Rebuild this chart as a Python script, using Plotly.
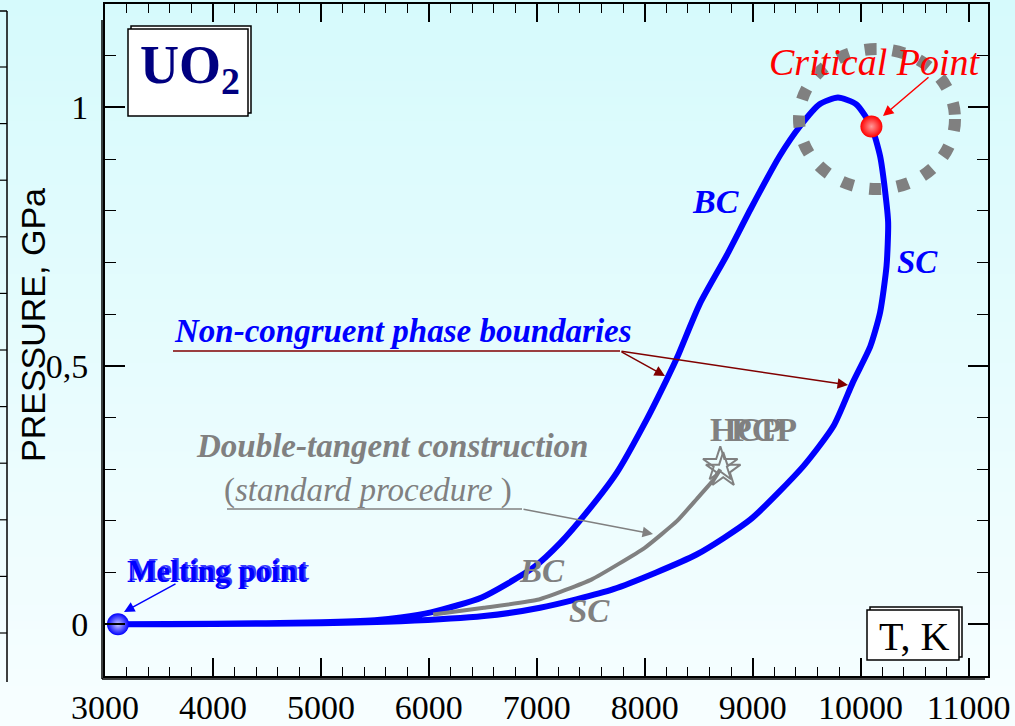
import plotly.graph_objects as go

# ---------------- data ----------------
# Boiling curve (BC): melting point -> critical point
bc_T = [3120, 4000, 5000, 5500, 5740, 6020, 6490, 6970, 7220, 7460, 7740, 8020,
        8200, 8300, 8510, 8760, 8980, 9250, 9440, 9620, 9790, 9960, 10100]
bc_P = [0.0, 0.001, 0.004, 0.008, 0.013, 0.023, 0.052, 0.110, 0.158, 0.216, 0.293, 0.397,
        0.472, 0.516, 0.620, 0.714, 0.803, 0.906, 0.964, 1.006, 1.019, 1.006, 0.963]

# Saturation curve (SC): critical point -> melting point
sc_T = [10100, 10180, 10225, 10255, 10240, 10180, 10090, 9930, 9750, 9470,
        8980, 8480, 7710, 7030, 6510, 5740, 5000, 4000, 3120]
sc_P = [0.963, 0.906, 0.841, 0.777, 0.693, 0.603, 0.538, 0.469, 0.384, 0.306,
        0.203, 0.135, 0.068, 0.032, 0.016, 0.006, 0.002, 0.0005, 0.0]

# Double-tangent construction (standard procedure)
dt_T = [6040, 6510, 7020, 7510, 8000, 8300, 8480, 8640, 8700]
dt_P = [0.019, 0.032, 0.048, 0.087, 0.148, 0.200, 0.242, 0.280, 0.300]

# Special points
melt_T, melt_P = [3120], [0.0]
crit_T, crit_P = [10100], [0.963]
star_T, star_P = [8700, 8727], [0.309, 0.298]

x_tick_vals = [3000, 4000, 5000, 6000, 7000, 8000, 9000, 10000, 11000]
x_tick_text = ["3000", "4000", "5000", "6000", "7000", "8000", "9000", "10000", "11000"]
y_tick_vals = [0, 0.5, 1]
y_tick_text = ["0", "0,5", "1"]

# ---------------- layout geometry ----------------
W, H = 1015, 726
L, R, T, B = 105, 988, 4, 676          # plot frame edges in pixels


def fx(px):
    return (px - L) / (R - L)


def fy(py):
    return (B - py) / (B - T)


SERIF = "Liberation Serif, Times New Roman, serif"
SANS = "Liberation Sans, Arial, sans-serif"
BLUE = "#0000ff"
GRAY = "#808080"
MAROON = "#800000"

fig = go.Figure()

# phase boundary loop
fig.add_trace(go.Scatter(
    x=bc_T + sc_T[1:], y=bc_P + sc_P[1:], mode="lines",
    line=dict(color=BLUE, width=6, shape="spline", smoothing=0.6),
    hoverinfo="skip", showlegend=False))

# double-tangent curve
fig.add_trace(go.Scatter(
    x=dt_T, y=dt_P, mode="lines",
    line=dict(color=GRAY, width=4, shape="spline", smoothing=0.4),
    hoverinfo="skip", showlegend=False))

# its end point (open stars)
fig.add_trace(go.Scatter(
    x=star_T, y=star_P, mode="markers",
    marker=dict(symbol="star-open", size=26, color=GRAY, line=dict(width=2, color=GRAY)),
    hoverinfo="skip", showlegend=False))

# melting point
fig.add_trace(go.Scatter(
    x=melt_T, y=melt_P, mode="markers",
    marker=dict(size=22, color=BLUE, line=dict(width=0),
                gradient=dict(type="radial", color="#c8c8ff")),
    hoverinfo="skip", showlegend=False))

# critical point
fig.add_trace(go.Scatter(
    x=crit_T, y=crit_P, mode="markers",
    marker=dict(size=22, color="#ff0000", line=dict(width=0),
                gradient=dict(type="radial", color="#ff9a9a")),
    hoverinfo="skip", showlegend=False))

shapes = []

# light cyan background gradient
top_rgb = (214, 250, 252)
bot_rgb = (247, 254, 255)
n_bands = 90
for i in range(n_bands):
    t = i / (n_bands - 1)
    c = tuple(round(a + (b - a) * t) for a, b in zip(top_rgb, bot_rgb))
    y0 = i * H / n_bands
    y1 = (i + 1) * H / n_bands + 1
    shapes.append(dict(type="rect", xref="paper", yref="paper",
                       x0=fx(0), x1=fx(W), y0=fy(y1), y1=fy(y0),
                       fillcolor="rgb(%d,%d,%d)" % c, line=dict(width=0), layer="below"))

# dotted ring around the critical region
shapes.append(dict(type="circle", xref="paper", yref="paper",
                   x0=fx(799), x1=fx(955), y0=fy(189), y1=fy(49),
                   line=dict(color=GRAY, width=12, dash="12px,16px"), layer="above"))

# framed "UO2" label box with offset shadow
shapes.append(dict(type="rect", xref="paper", yref="paper",
                   x0=fx(131), x1=fx(251), y0=fy(113), y1=fy(26),
                   fillcolor="white", line=dict(color="black", width=1.5), layer="above"))
shapes.append(dict(type="rect", xref="paper", yref="paper",
                   x0=fx(128), x1=fx(248), y0=fy(116), y1=fy(29),
                   fillcolor="white", line=dict(color="black", width=1.5), layer="above"))

# framed "T, K" label box with offset shadow
shapes.append(dict(type="rect", xref="paper", yref="paper",
                   x0=fx(870), x1=fx(962), y0=fy(657), y1=fy(607),
                   fillcolor="white", line=dict(color="black", width=1.5), layer="above"))
shapes.append(dict(type="rect", xref="paper", yref="paper",
                   x0=fx(867), x1=fx(959), y0=fy(660), y1=fy(610),
                   fillcolor="white", line=dict(color="black", width=1.5), layer="above"))

# underlines of the callout texts
shapes.append(dict(type="line", xref="paper", yref="paper",
                   x0=fx(173), x1=fx(620), y0=fy(351), y1=fy(351),
                   line=dict(color=MAROON, width=1.5), layer="above"))
shapes.append(dict(type="line", xref="paper", yref="paper",
                   x0=fx(227), x1=fx(522), y0=fy(509), y1=fy(509),
                   line=dict(color=GRAY, width=1.5), layer="above"))

# extra shadow stroke along the bottom and left frame edges
shapes.append(dict(type="line", xref="paper", yref="paper",
                   x0=fx(102), x1=fx(985), y0=fy(679), y1=fy(679),
                   line=dict(color="black", width=1.5), layer="above"))
shapes.append(dict(type="line", xref="paper", yref="paper",
                   x0=fx(102), x1=fx(102), y0=fy(679), y1=fy(20),
                   line=dict(color="black", width=1.5), layer="above"))

# edge of the neighbouring panel at the far left
shapes.append(dict(type="line", xref="paper", yref="paper",
                   x0=fx(7), x1=fx(7), y0=fy(682), y1=fy(11),
                   line=dict(color="black", width=1.5), layer="above"))
shapes.append(dict(type="line", xref="paper", yref="paper",
                   x0=fx(0), x1=fx(7), y0=fy(11), y1=fy(11),
                   line=dict(color="black", width=1.5), layer="above"))
k = 0
while 67 + 56.6 * k < 680:
    yy = 67 + 56.6 * k
    shapes.append(dict(type="line", xref="paper", yref="paper",
                       x0=fx(0), x1=fx(7), y0=fy(yy), y1=fy(yy),
                       line=dict(color="black", width=1.2), layer="above"))
    k += 1

annotations = []


def label(px, py, text, size, color, family=SERIF, angle=0, xanchor="center"):
    annotations.append(dict(x=fx(px), y=fy(py), xref="paper", yref="paper",
                            text=text, showarrow=False, textangle=angle,
                            xanchor=xanchor, yanchor="middle",
                            font=dict(family=family, size=size, color=color)))


def arrow(hx, hy, tx, ty, color, width=1.5, size=1.3):
    annotations.append(dict(x=fx(hx), y=fy(hy), xref="paper", yref="paper",
                            ax=tx - hx, ay=ty - hy, text="", showarrow=True,
                            arrowhead=2, arrowsize=size, arrowwidth=width,
                            arrowcolor=color, standoff=0))


# axis title
label(33, 325, "PRESSURE, GPa", 34, "black", family=SANS, angle=-90)

# substance and axis-unit labels
label(190, 68, "<b>UO<sub>2</sub></b>", 54, "#000080")
label(914, 636, "T, K", 40, "black")

# critical point
label(875, 62, "<i>Critical Point</i>", 38, "#ff0000")
arrow(883, 116, 930, 76, "#ff0000", width=1.5, size=1.4)

# branch names
label(715, 202, "<b><i>BC</i></b>", 34, BLUE)
label(917, 262, "<b><i>SC</i></b>", 33, BLUE)
label(542, 571, "<b><i>BC</i></b>", 33, GRAY)
label(589, 611, "<b><i>SC</i></b>", 33, GRAY)

# non-congruent boundaries callout
label(403, 331, "<b><i>Non-congruent phase boundaries</i></b>", 33, BLUE)
arrow(665, 376, 620, 351, MAROON, width=1.5, size=1.4)
arrow(848, 385, 620, 351, MAROON, width=1.5, size=1.4)

# double-tangent callout
label(392, 446, "<b><i>Double-tangent construction</i></b>", 33, GRAY)
label(368, 490, "(<i>standard procedure </i>)", 33, GRAY)
arrow(653, 534, 522, 509, GRAY, width=1.5, size=1.4)

# overlapping point labels at the end of the gray curve
label(708, 429, "<b>HCP</b>", 34, GRAY, xanchor="left")
label(729, 429, "<b>PCP</b>", 34, GRAY, xanchor="left")

# melting point
label(219, 569, "<b>Melting point</b>", 31, "#3a3aff")
label(217, 571, "<b>Melting point</b>", 31, BLUE)
arrow(124, 612, 177, 583, BLUE, width=1.5, size=1.4)

axis_common = dict(showgrid=False, zeroline=False, showline=True, linecolor="black",
                   linewidth=2, mirror="allticks", ticks="inside", tickcolor="black",
                   tickwidth=1.5, automargin=False,
                   tickfont=dict(family=SERIF, size=34, color="black"))

fig.update_layout(
    width=W, height=H, autosize=False,
    margin=dict(l=L, r=W - R, t=T, b=H - B, pad=0),
    paper_bgcolor="rgb(230,252,254)",
    plot_bgcolor="rgba(0,0,0,0)",
    showlegend=False,
    shapes=shapes,
    annotations=annotations,
    xaxis=dict(range=[3000, 11180], tickvals=x_tick_vals, ticktext=x_tick_text,
               ticklen=18, ticklabelstandoff=0,
               minor=dict(dtick=200, ticks="inside", ticklen=9, tickcolor="black", tickwidth=1.2),
               **axis_common),
    yaxis=dict(range=[-0.1, 1.2], tickvals=y_tick_vals, ticktext=y_tick_text,
               ticklen=20, ticklabelstandoff=8,
               minor=dict(dtick=0.1, ticks="inside", ticklen=11, tickcolor="black", tickwidth=1.2),
               **axis_common),
)

fig.write_html("out.html")
